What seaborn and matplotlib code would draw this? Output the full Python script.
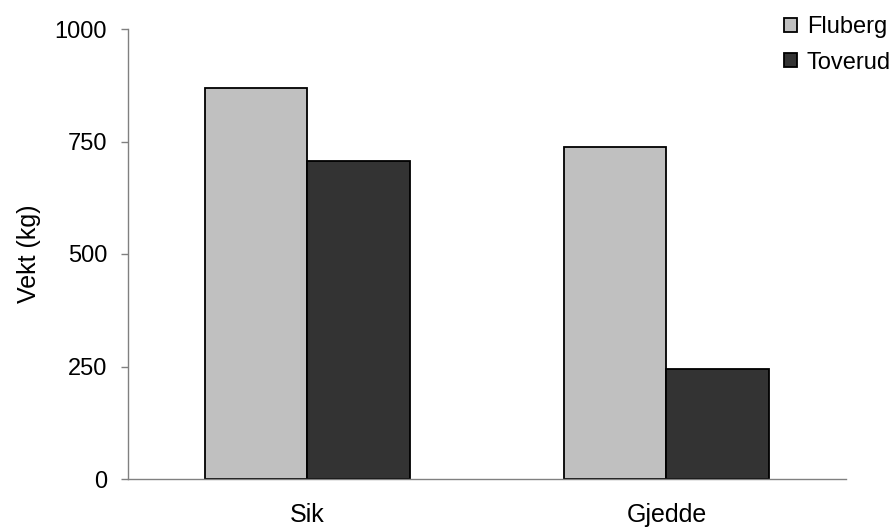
import matplotlib
matplotlib.use("Agg")
import matplotlib.pyplot as plt
import seaborn as sns
import pandas as pd
from matplotlib.patches import Patch

categories = ["Sik", "Gjedde"]
series = ["Fluberg", "Toverud"]
fluberg = [869, 738]
toverud = [707, 245]
yticks = [0, 250, 500, 750, 1000]
colors = {"Fluberg": "#c0c0c0", "Toverud": "#333333"}

df = pd.DataFrame({
    "Art": categories * 2,
    "Sted": [series[0]] * 2 + [series[1]] * 2,
    "Vekt": fluberg + toverud,
})

sns.set_style("white")
plt.rcParams["font.family"] = ["Liberation Sans", "DejaVu Sans"]
plt.rcParams["text.color"] = "black"
plt.rcParams["axes.labelcolor"] = "black"
plt.rcParams["xtick.labelcolor"] = "black"
plt.rcParams["ytick.labelcolor"] = "black"
FS = 17

fig = plt.figure(figsize=(8.95, 5.27), dpi=100)
ax = fig.add_axes([128/895, 1-479/527, (846-128)/895, (479-29)/527])

sns.barplot(data=df, x="Art", y="Vekt", hue="Sted", palette=colors,
            width=0.571, edgecolor="black", linewidth=1.3, ax=ax,
            legend=False, saturation=1)

ax.set_xlim(-0.5, 1.5)
ax.set_ylim(0, 1000)
ax.set_yticks(yticks)
ax.set_yticklabels([str(v) for v in yticks], fontsize=FS)
ax.set_xticks([0, 1])
ax.set_xticklabels(categories, fontsize=FS + 1)
ax.tick_params(axis="x", which="major", length=0, pad=17, labelcolor="black")
ax.set_xticks([-0.5, 0.5, 1.5], minor=True)
ax.tick_params(axis="x", which="minor", length=5, color="#808080", width=1)
ax.tick_params(axis="y", length=5, color="#808080", width=1, left=True, pad=10,
               labelcolor="black")
ax.set_xlabel("")
ax.set_ylabel("Vekt (kg)", fontsize=FS + 1, labelpad=10, color="black")
for s in ["top", "right"]:
    ax.spines[s].set_visible(False)
for s in ["left", "bottom"]:
    ax.spines[s].set_color("#808080")
    ax.spines[s].set_linewidth(1)

handles = [Patch(facecolor=colors[s], edgecolor="black", linewidth=1.3, label=s) for s in series]
fig.legend(handles=handles, loc="upper left", bbox_to_anchor=(784/895, 1-16/527),
           frameon=False, fontsize=FS, handlelength=0.55, handleheight=0.55,
           handletextpad=0.42, labelspacing=0.58, borderaxespad=0, borderpad=0,
           labelcolor="black")

fig.savefig("out.png", dpi=100)
